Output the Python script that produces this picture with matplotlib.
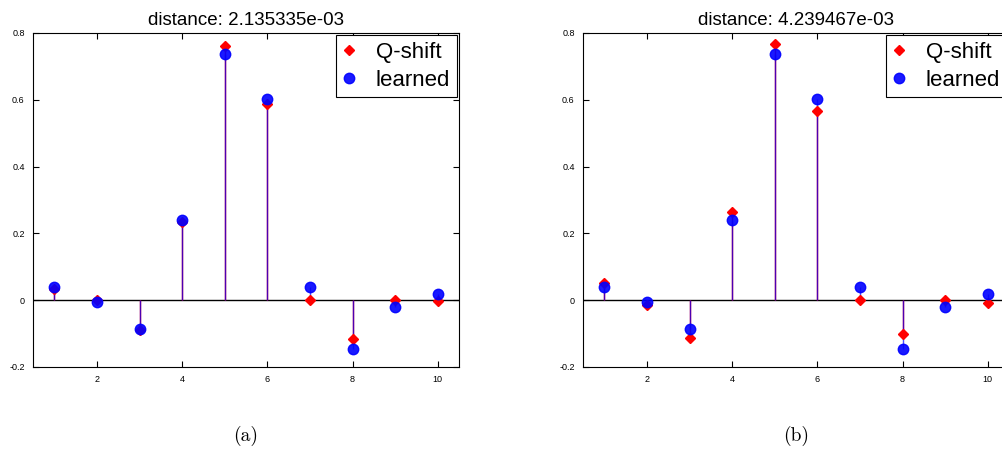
import numpy as np
import matplotlib
matplotlib.use("Agg")
import matplotlib.pyplot as plt

plt.rcParams['font.family'] = ['Liberation Sans', 'DejaVu Sans']

# indici dei coefficienti
n = np.arange(1, 11)

# filtro appreso (uguale nei due pannelli)
learned = [0.04, -0.006, -0.085, 0.24, 0.737, 0.603, 0.04, -0.147, -0.02, 0.02]

# filtri Q-shift dei due pannelli
qshift_a = [0.035, 0.002, -0.09, 0.235, 0.762, 0.588, 0.0, -0.115, 0.002, -0.002]
qshift_b = [0.052, -0.015, -0.112, 0.265, 0.768, 0.565, 0.0, -0.1, 0.0, -0.007]

titles = ['distance: 2.135335e-03', 'distance: 4.239467e-03']
captions = ['(a)', '(b)']
yticks = [-0.2, 0, 0.2, 0.4, 0.6, 0.8]
ytick_labels = ['-0.2', '0', '0.2', '0.4', '0.6', '0.8']
xticks = [2, 4, 6, 8, 10]

fig = plt.figure(figsize=(10.02, 4.5), dpi=100)

lefts = [33 / 1002, 583 / 1002]
for i, q in enumerate([qshift_a, qshift_b]):
    ax = fig.add_axes([lefts[i], 1 - 367 / 450, 426 / 1002, 334 / 450])

    # stem Q-shift (rosso) e appreso (blu) sovrapposti
    ax.vlines(n, 0, q, color='red', lw=1.0, zorder=2)
    ax.vlines(n, 0, learned, color='blue', lw=1.0, alpha=0.7, zorder=3)
    ax.axhline(0, color='black', lw=1.0, zorder=1)
    ax.plot(n, q, 'D', color='red', ms=5.5, mec='red', label='Q-shift', zorder=4)
    ax.plot(n, learned, 'o', color='blue', ms=7.5, mec='blue', alpha=0.9,
            label='learned', zorder=5)

    ax.set_xlim(0.5, 10.5)
    ax.set_ylim(-0.2, 0.8)
    ax.set_xticks(xticks)
    ax.set_yticks(yticks)
    ax.set_yticklabels(ytick_labels)
    ax.tick_params(direction='in', length=4, width=0.8, labelsize=6.5,
                   top=True, right=True, pad=6)
    for s in ax.spines.values():
        s.set_linewidth(0.8)
    ax.set_title(titles[i], fontsize=13.5, pad=6)

    leg = ax.legend(loc='upper right', fontsize=16, fancybox=False,
                    framealpha=1, edgecolor='black', handlelength=0.6,
                    handletextpad=0.9, borderpad=0.3, labelspacing=0.3,
                    borderaxespad=0.1)
    leg.get_frame().set_linewidth(0.8)

    fig.text(lefts[i] + 213 / 1002, 1 - 436 / 450, captions[i],
             fontsize=14, family=['cmr10', 'DejaVu Serif'], ha='center', va='center')

fig.savefig('out.png', dpi=100)
